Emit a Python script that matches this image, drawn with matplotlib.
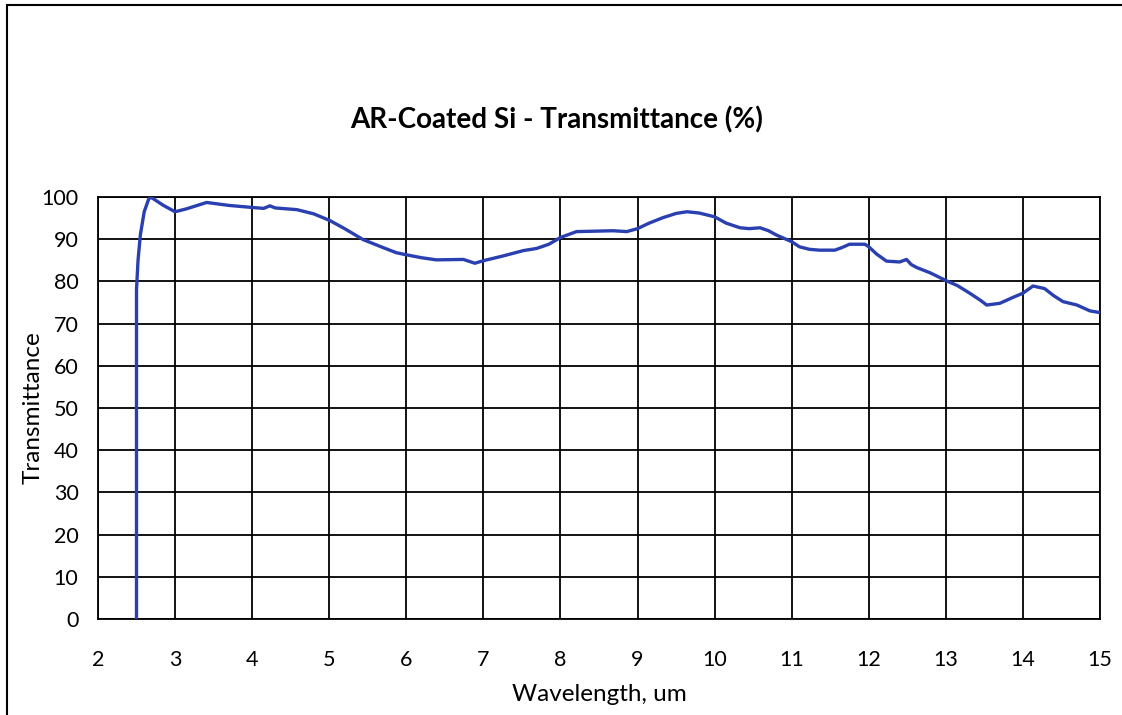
import matplotlib.pyplot as plt
from matplotlib.patches import Rectangle

# wavelength (um) and transmittance (%)
wavelength = [2.50, 2.50, 2.52, 2.55, 2.60, 2.66, 2.69, 2.75, 2.85, 3.00, 3.15, 3.41,
              3.70, 4.01, 4.15, 4.23, 4.30, 4.58, 4.80, 5.01, 5.20, 5.44, 5.70, 5.87,
              6.00, 6.20, 6.39, 6.74, 6.89, 7.00, 7.25, 7.52, 7.69, 7.85, 8.00, 8.21,
              8.45, 8.68, 8.86, 9.00, 9.15, 9.33, 9.50, 9.64, 9.80, 10.00, 10.15, 10.33,
              10.45, 10.59, 10.70, 10.80, 11.00, 11.10, 11.23, 11.36, 11.56, 11.65,
              11.75, 11.95, 12.00, 12.10, 12.23, 12.40, 12.49, 12.55, 12.62, 12.80,
              13.00, 13.15, 13.31, 13.45, 13.53, 13.70, 13.87, 14.00, 14.13, 14.28,
              14.40, 14.52, 14.70, 14.87, 15.00]
transmittance = [0.0, 78.0, 85.0, 91.0, 96.5, 99.6, 99.9, 99.2, 98.0, 96.5, 97.2, 98.7,
                 98.0, 97.5, 97.3, 97.9, 97.4, 97.0, 96.0, 94.4, 92.5, 89.9, 88.0, 86.8,
                 86.3, 85.6, 85.1, 85.2, 84.3, 84.9, 86.0, 87.3, 87.8, 88.8, 90.4, 91.8,
                 91.9, 92.0, 91.8, 92.5, 93.8, 95.1, 96.1, 96.5, 96.2, 95.3, 93.8, 92.7,
                 92.5, 92.7, 92.0, 91.0, 89.4, 88.2, 87.6, 87.4, 87.4, 88.0,
                 88.8, 88.8, 88.2, 86.5, 84.8, 84.6, 85.2, 84.0, 83.3, 82.0,
                 80.2, 79.0, 77.2, 75.5, 74.4, 74.8, 76.2, 77.2, 78.9, 78.3,
                 76.6, 75.2, 74.4, 73.0, 72.6]

xticks = list(range(2, 16))
yticks = list(range(0, 101, 10))

plt.rcParams['font.family'] = ['Lato', 'DejaVu Sans']

fig = plt.figure(figsize=(11.22, 7.15), dpi=100)
ax = fig.add_axes([0.0873, 0.1343, 0.8931, 0.5902])

ax.plot(wavelength, transmittance, color='#2a3fb0', linewidth=2.4, zorder=3)

ax.set_xlim(2, 15)
ax.set_ylim(0, 100)
ax.set_xticks(xticks)
ax.set_yticks(yticks)
ax.grid(True, color='black', linewidth=1.3)
for s in ax.spines.values():
    s.set_linewidth(1.3)
ax.tick_params(length=0, labelsize=15.5)
ax.tick_params(axis='x', pad=22)
ax.tick_params(axis='y', pad=14)

ax.set_xlabel('Wavelength, um', fontsize=17.5)
ax.set_ylabel('Transmittance', fontsize=17.5)
ax.xaxis.set_label_coords(0.5, -0.153)
ax.yaxis.set_label_coords(-0.054, 0.5)

fig.text(0.496, 0.832, 'AR-Coated Si - Transmittance (%)', ha='center', va='center',
         fontsize=20, fontweight='bold')

# outer chart border
fig.patches.append(Rectangle((7 / 1122, -0.1), 1.2, 1 - 5 / 715 + 0.1,
                             transform=fig.transFigure, fill=False,
                             edgecolor='black', linewidth=1.5))

fig.savefig('out.png', dpi=100)
